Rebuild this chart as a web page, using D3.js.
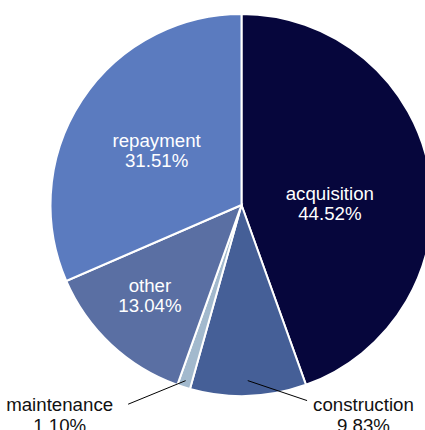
<!DOCTYPE html>
<html>
<head>
<meta charset="utf-8">
<script src="https://cdn.jsdelivr.net/npm/d3@7"></script>
<style>
  body { margin: 0; background: #fff; }
  text { font-family: "Liberation Sans", Arial, sans-serif; font-size: 18.7px; }
</style>
</head>
<body>
<div id="chart"></div>
<script>
var categories = ['acquisition', 'construction', 'maintenance', 'other', 'repayment'];
var shares = [44.52, 9.83, 1.10, 13.04, 31.51];
var colors = ['#06063c', '#455f97', '#a2b9cd', '#5a6fa3', '#5b7bbf'];
var outside = ['construction', 'maintenance']; // labels drawn outside with a leader line

var width = 425, height = 430;
var cx = 241.5, cy = 205, radius = 191;

var data = categories.map(function(c, i) { return {name: c, value: shares[i], color: colors[i]}; });

var svg = d3.select("#chart")
  .append("svg")
  .attr("width", width)
  .attr("height", height);

var g = svg.append("g")
  .attr("transform", "translate(" + cx + "," + cy + ")");

var pie = d3.pie()
  .sort(null)
  .value(function(d) { return d.value; });

var arcs = pie(data);

var arc = d3.arc().innerRadius(0).outerRadius(radius);

g.selectAll("path")
  .data(arcs)
  .enter()
  .append("path")
  .attr("d", arc)
  .attr("fill", function(d) { return d.data.color; })
  .attr("stroke", "#fff")
  .attr("stroke-width", 2);

// point at distance r along angle a (radians, clockwise from 12 o'clock)
function polar(r, a) { return [r * Math.sin(a), -r * Math.cos(a)]; }
function mid(d) { return (d.startAngle + d.endAngle) / 2; }

// inside labels sit near the centroid of the sector area
var nudge = {acquisition: [0, 13], other: [-7, 0], repayment: [5, 4]};

arcs.forEach(function(d) {
  if (outside.indexOf(d.data.name) >= 0) return;
  var half = (d.endAngle - d.startAngle) / 2;
  var dist = 2 * radius * Math.sin(half) / (3 * half);
  var p = polar(dist, mid(d));
  var n = nudge[d.data.name] || [0, 0];
  p[0] += n[0];
  p[1] += n[1];
  var t = g.append("text")
    .attr("text-anchor", "middle")
    .attr("fill", "#fff");
  t.append("tspan").attr("x", p[0]).attr("y", p[1] - 3).text(d.data.name);
  t.append("tspan").attr("x", p[0]).attr("y", p[1] + 17).text(d.data.value.toFixed(2) + "%");
});

// outside labels with leader lines
var leader = {
  maintenance: {r0: 0.965, r1: 1.2, da: 12, side: -1, gap: 15},
  construction: {r0: 0.92, r1: 1.08, da: -16.5, side: 1, gap: 6}
};

arcs.forEach(function(d) {
  var L = leader[d.data.name];
  if (!L) return;
  var a = mid(d);
  var p0 = polar(radius * L.r0, a);
  var p1 = polar(radius * L.r1, a + L.da * Math.PI / 180);
  g.append("line")
    .attr("x1", p0[0]).attr("y1", p0[1])
    .attr("x2", p1[0]).attr("y2", p1[1])
    .attr("stroke", "#000")
    .attr("stroke-width", 1);
  var name = g.append("text")
    .attr("text-anchor", L.side < 0 ? "end" : "start")
    .attr("x", p1[0] + L.side * L.gap)
    .attr("y", 411 - cy)
    .attr("fill", "#111")
    .text(d.data.name);
  var bb = name.node().getBBox();
  g.append("text")
    .attr("text-anchor", "middle")
    .attr("x", bb.x + bb.width / 2)
    .attr("y", 432 - cy)
    .attr("fill", "#111")
    .text(d.data.value.toFixed(2) + "%");
});
</script>
</body>
</html>
